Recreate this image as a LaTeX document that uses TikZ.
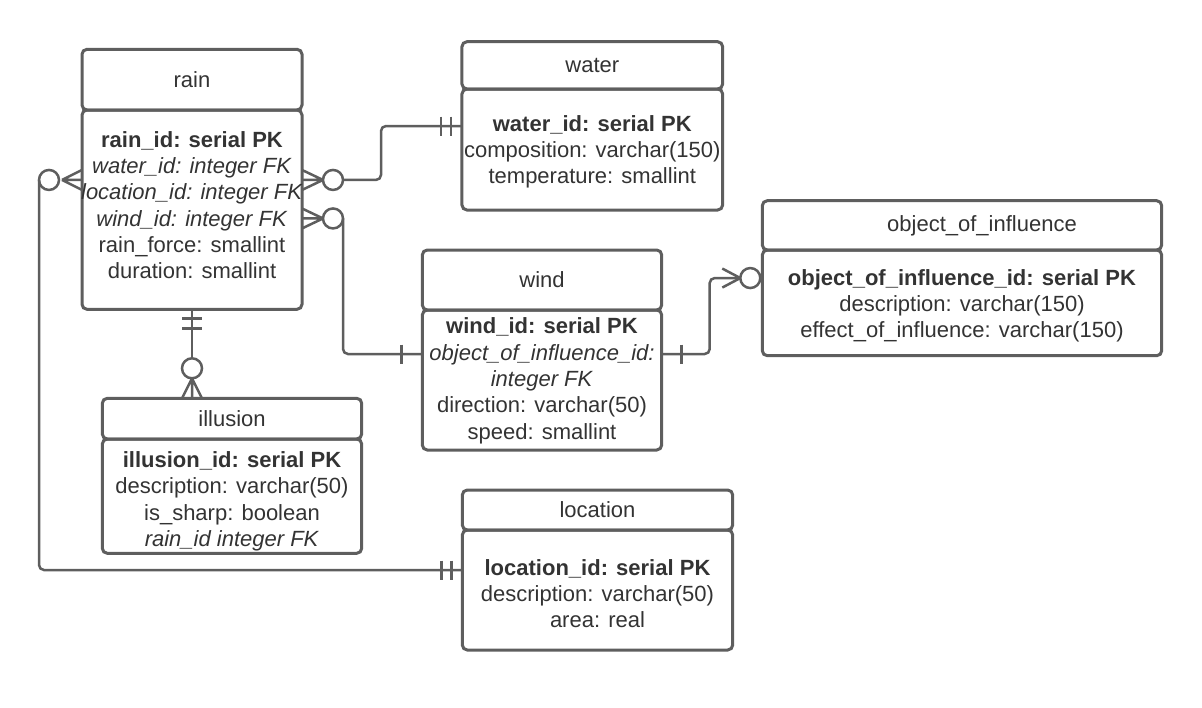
\documentclass[tikz,border=0pt]{standalone}
\usepackage{fontspec}
\setmainfont{Liberation Sans}
\usepackage{xcolor}
\usetikzlibrary{calc}
\usetikzlibrary{positioning}

\definecolor{edge}{HTML}{5E5E5E}
\definecolor{ink}{HTML}{333333}

\begin{document}
\begin{tikzpicture}
    [x=1pt, y=-1pt,
    head/.style={rectangle, rounded corners=5pt, draw=edge, line width=3pt, fill=white, text=ink, inner sep=0pt, outer sep=0pt, anchor=north, font=\fontsize{22}{26.3}\selectfont},
    body/.style={rectangle, rounded corners=5pt, draw=edge, line width=3pt, inner sep=0pt, outer sep=0pt, anchor=north},
    rows/.style={text=ink, inner sep=0pt, align=center, font=\fontsize{22}{26.3}\selectfont},
    conn/.style={draw=edge, line width=2.5pt},
    zero/.style={circle, draw=edge, line width=2.5pt, fill=white, minimum size=20pt, inner sep=0pt, outer sep=0pt}]
    \useasboundingbox (0,0) rectangle (1202,707);
    \foreach \n/\x/\y/\w/\hh/\bh/\dy/\t/\b in {
        rain/192/49.3/220/60.7/199.3/4.4/rain/{\textbf{rain\_id: serial PK}\\\textit{water\_id: integer FK}\\\textit{location\_id: integer FK}\\\textit{wind\_id: integer FK}\\rain\_force: smallint\\duration: smallint},
        water/592.3/41.7/260.7/47.3/121/-2.3/water/{\textbf{water\_id: serial PK}\\composition: varchar(150)\\temperature: smallint},
        wind/542/250/239.4/60/140/-0.8/wind/{\textbf{wind\_id: serial PK}\\\textit{object\_of\_influence\_id:}\\\textit{integer FK}\\direction: varchar(50)\\speed: smallint},
        object/962/200.7/399.4/49.3/105.7/-3/{\hspace*{40pt}object\_of\_influence}/{\textbf{object\_of\_influence\_id: serial PK}\\description: varchar(150)\\effect\_of\_influence: varchar(150)},
        illusion/232/398.3/259.4/40.7/114.3/-5.1/illusion/{\textbf{illusion\_id: serial PK}\\description: varchar(50)\\is\_sharp: boolean\\\textit{rain\_id integer FK}},
        location/597.5/490/270.4/40/120/-3.8/location/{\textbf{location\_id: serial PK}\\description: varchar(50)\\area: real}}{
        \node(\n-head)[head, minimum width=\w pt, minimum height=\hh pt] at (\x,\y) {\t};
        \node(\n)[body, minimum width=\w pt, minimum height=\bh pt] at (\n-head.south) {};
        \node(\n-rows)[rows] at ([yshift=\dy pt]\n.center) {\b};
    }
    \coordinate (rw) at ([yshift=29.7pt]rain.east);
    \coordinate (rd) at ([yshift=-8.8pt]rain.east);
    \coordinate (rl) at ([yshift=29.7pt]rain.west);
    \coordinate (wa) at ([yshift=23.5pt]water.west);
    \coordinate (wi) at ([yshift=26pt]wind.west);
    \coordinate (wo) at ([yshift=26pt]wind.east);
    \coordinate (oi) at ([yshift=24.8pt]object.west);
    \coordinate (lo) at ([yshift=20pt]location.west);
    \coordinate (il) at ([xshift=-40pt]illusion-head.north);
    \foreach \p/\s in {rw/21,rd/21,rl/-20}{
        \draw[conn] ([yshift=10pt]\p) -- ([xshift=\s pt]\p) ([yshift=-10pt]\p) -- ([xshift=\s pt]\p) (\p) -- ([xshift=\s pt]\p);
    }
    \draw[conn] ([xshift=-10pt]il) -- ([yshift=20pt]il) ([xshift=10pt]il) -- ([yshift=20pt]il) (il) -- ([yshift=20pt]il);
    \draw[conn] ([xshift=-40pt, yshift=9.5pt]oi) -- ([xshift=-22pt]oi) ([xshift=-40pt, yshift=-9.5pt]oi) -- ([xshift=-22pt]oi);
    \node(cw)[zero] at ([xshift=31pt]rw) {};
    \node(cd)[zero] at ([xshift=31pt]rd) {};
    \node(cl)[zero] at ([xshift=-33pt]rl) {};
    \node(co)[zero] at ([xshift=-12pt]oi) {};
    \node(ci)[zero] at ([yshift=30pt]il) {};
    \draw[conn, rounded corners=5pt] (cw.east) -- ++(38,0) |- (wa);
    \draw[conn, rounded corners=5pt] (cd.east) |- (wi);
    \draw[conn, rounded corners=5pt] (wo) -- ++(48,0) |- (co.west);
    \draw[conn, rounded corners=5pt] (cl.west) |- (lo);
    \draw[conn] (rain.south) -- (ci.north);
    \foreach \p/\d in {wa/-11,wa/-21,lo/-11,lo/-21,wi/-21,wo/20}{
        \draw[conn] ([xshift=\d pt, yshift=9.5pt]\p) -- ([xshift=\d pt, yshift=-9.5pt]\p);
    }
    \foreach \d in {-9,-19}{
        \draw[conn] ([xshift=-10pt, yshift=\d pt]rain.south) -- ([xshift=10pt, yshift=\d pt]rain.south);
    }
\end{tikzpicture}
\end{document}
